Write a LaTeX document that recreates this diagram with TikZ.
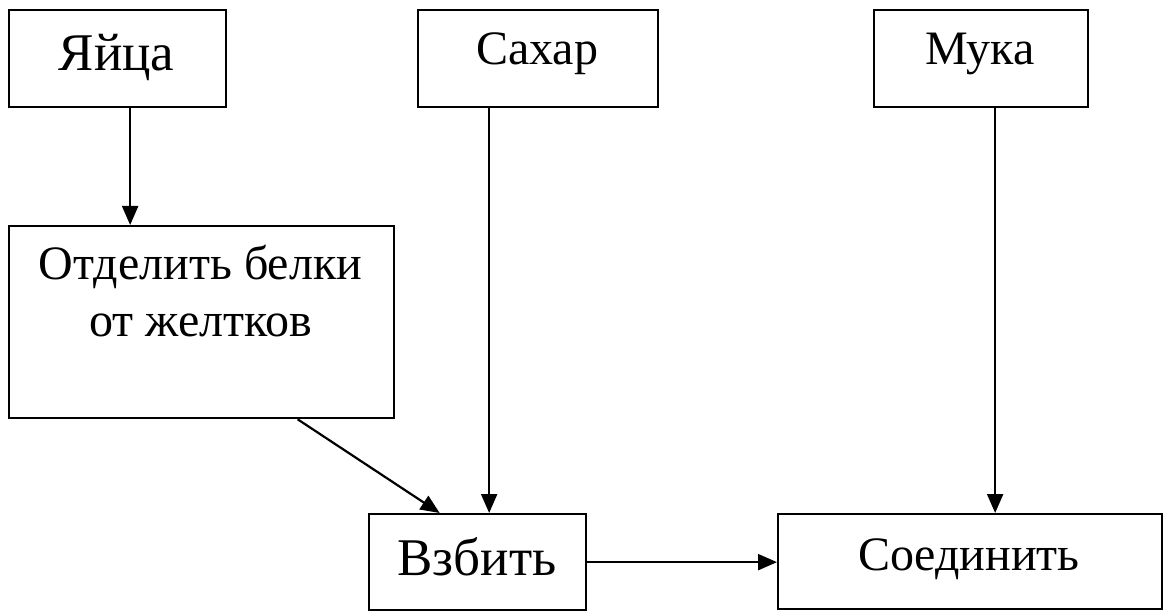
\documentclass[tikz,border=0pt]{standalone}
\usepackage{fontspec}
\setmainfont{Liberation Serif}
\usetikzlibrary{arrows.meta}
\begin{document}
\begin{tikzpicture}[x=1pt,y=-1pt,
  box/.style={draw, line width=2.3pt, inner sep=0pt, anchor=north west},
  lbl/.style={inner sep=0pt, anchor=base, font=\fontsize{48}{57}\selectfont},
  big/.style={font=\fontsize{53}{60}\selectfont},
  arr/.style={line width=2.2pt, -{Triangle[length=19pt,width=16pt]}}]
\useasboundingbox (0,0) rectangle (1163,612);
% boxes
\node[box, minimum width=217pt, minimum height=97pt] (egg) at (8,9) {};
\node[box, minimum width=240pt, minimum height=97pt] (sugar) at (417,9) {};
\node[box, minimum width=214pt, minimum height=97pt] (flour) at (873,9) {};
\node[box, minimum width=385pt, minimum height=192pt] (sep) at (8,225) {};
\node[box, minimum width=217pt, minimum height=96pt] (beat) at (368,513) {};
\node[box, minimum width=384pt, minimum height=95pt] (mix) at (777,513) {};
% labels
\node[lbl, big] (egg-t) at (116.5,71) {Яйца};
\node[lbl] (sugar-t) at (537,65) {Сахар};
\node[lbl] (flour-t) at (980,65) {Мука};
\node[lbl] (sep-t1) at (200.5,280) {Отделить белки};
\node[lbl] (sep-t2) at (200.5,337) {от желтков};
\node[lbl, big] (beat-t) at (477,575) {Взбить};
\node[lbl] (mix-t) at (969,570) {Соединить};
% connectors
\draw[arr] ([xshift=12.5pt]egg.south) -- ([xshift=12.5pt]egg.south |- sep.north);
\draw[arr] ([xshift=-49pt]sugar.south) -- ([xshift=-49pt]sugar.south |- beat.north);
\draw[arr] ([xshift=14pt]flour.south) -- ([xshift=14pt]flour.south |- mix.north);
\draw[arr] ([xshift=96pt]sep.south) -- ([xshift=-38pt]beat.north);
\draw[arr] (beat.east) -- (beat.east -| mix.west);
\end{tikzpicture}
\end{document}
